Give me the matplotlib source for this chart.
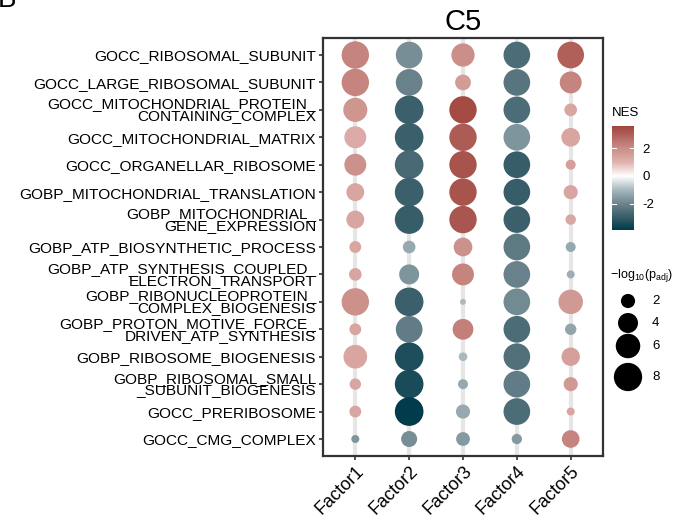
import numpy as np
import matplotlib
matplotlib.use("Agg")
import matplotlib.pyplot as plt
from matplotlib.colors import LinearSegmentedColormap, Normalize

plt.rcParams['font.family'] = ['Liberation Sans', 'DejaVu Sans']
plt.rcParams['mathtext.fontset'] = 'custom'
plt.rcParams['mathtext.rm'] = 'Liberation Sans'
plt.rcParams['mathtext.it'] = 'Liberation Sans'

factors = ['Factor1', 'Factor2', 'Factor3', 'Factor4', 'Factor5']
terms = [
    'GOCC_RIBOSOMAL_SUBUNIT',
    'GOCC_LARGE_RIBOSOMAL_SUBUNIT',
    'GOCC_MITOCHONDRIAL_PROTEIN_\nCONTAINING_COMPLEX',
    'GOCC_MITOCHONDRIAL_MATRIX',
    'GOCC_ORGANELLAR_RIBOSOME',
    'GOBP_MITOCHONDRIAL_TRANSLATION',
    'GOBP_MITOCHONDRIAL_\nGENE_EXPRESSION',
    'GOBP_ATP_BIOSYNTHETIC_PROCESS',
    'GOBP_ATP_SYNTHESIS_COUPLED_\nELECTRON_TRANSPORT',
    'GOBP_RIBONUCLEOPROTEIN_\nCOMPLEX_BIOGENESIS',
    'GOBP_PROTON_MOTIVE_FORCE_\nDRIVEN_ATP_SYNTHESIS',
    'GOBP_RIBOSOME_BIOGENESIS',
    'GOBP_RIBOSOMAL_SMALL\n_SUBUNIT_BIOGENESIS',
    'GOCC_PRERIBOSOME',
    'GOCC_CMG_COMPLEX',
]

# NES per term (rows) and factor (columns)
nes = [
    [2.2, -1.8, 2.0, -2.6, 3.0],
    [2.2, -2.1, 1.6, -2.4, 2.2],
    [1.8, -2.9, 3.5, -2.6, 1.4],
    [1.2, -2.9, 3.1, -1.7, 1.4],
    [1.9, -2.7, 3.3, -3.0, 1.5],
    [1.4, -2.9, 3.3, -3.0, 1.4],
    [1.4, -3.0, 3.2, -2.9, 1.3],
    [1.4, -1.3, 1.9, -2.3, -1.3],
    [1.4, -1.7, 2.2, -2.1, -1.2],
    [1.9, -2.9, -1.0, -1.9, 1.7],
    [1.4, -2.2, 2.3, -2.6, -1.4],
    [1.4, -3.4, -1.0, -2.5, 1.5],
    [1.4, -3.5, -1.3, -2.2, 1.7],
    [1.4, -3.9, -1.3, -2.6, 1.4],
    [-1.7, -1.8, -1.6, -1.6, 2.2],
]

# -log10(p_adj)
logp = [
    [7.5, 7.1, 5.4, 7.1, 7.1],
    [7.5, 7.1, 2.5, 7.1, 4.8],
    [5.8, 8.2, 7.5, 7.1, 1.6],
    [4.8, 8.2, 7.5, 7.1, 3.5],
    [4.8, 8.2, 7.5, 7.1, 1.0],
    [3.2, 8.2, 7.5, 7.1, 2.0],
    [3.2, 8.2, 7.5, 7.1, 1.1],
    [1.4, 1.6, 3.5, 7.1, 1.0],
    [1.6, 4.0, 4.8, 7.1, 0.64],
    [7.5, 8.2, 0.36, 7.1, 6.0],
    [1.4, 7.1, 4.3, 7.1, 1.3],
    [5.6, 8.2, 0.75, 7.1, 3.4],
    [1.3, 8.2, 1.0, 7.1, 2.0],
    [1.4, 8.2, 2.0, 7.1, 0.64],
    [0.64, 2.56, 1.9, 1.06, 3.1],
]

size_breaks = [2, 4, 6, 8]
nes_ticks = [-2, 0, 2]
nes_lo, nes_hi = -3.9, 3.6

anchors = [(-3.9, '#003C4B'), (-3.0, '#385D68'), (-2.0, '#6D858E'), (-1.0, '#A9B9BE'),
           (0.0, '#FFFFFF'), (1.0, '#E0B3AF'), (2.0, '#CB8E88'), (3.0, '#B0605A'), (3.9, '#9A3A32')]
cmap = LinearSegmentedColormap.from_list(
    'nes', [((v + 3.9) / 7.8, c) for v, c in anchors])
norm = Normalize(-3.9, 3.9)


def to_size(v):
    return 51.84 * np.asarray(v)


W, H = 689, 521
fig = plt.figure(figsize=(W / 100, H / 100), dpi=100)

def px_axes(x0, y0, x1, y1):
    return fig.add_axes([x0 / W, 1 - y1 / H, (x1 - x0) / W, (y1 - y0) / H])

ax = px_axes(323, 38, 603, 456)
n = len(terms)
xs, ys, cs, ss = [], [], [], []
for i in range(n):
    for j in range(len(factors)):
        xs.append(j + 1)
        ys.append(n - i)
        cs.append(nes[i][j])
        ss.append(logp[i][j])

for j in range(len(factors)):
    ax.axvline(j + 1, color='#E6E6E6', lw=3, zorder=0)
ax.scatter(xs, ys, s=to_size(ss), c=cs, cmap=cmap, norm=norm, linewidths=0, zorder=2)
ax.set_xlim(0.4, 5.6)
ax.set_ylim(0.38, n + 0.62)
ax.set_xticks(range(1, len(factors) + 1))
ax.set_xticklabels(factors, rotation=45, ha='right', va='top', rotation_mode='anchor', fontsize=13)
ax.set_yticks(range(n, 0, -1))
ax.set_yticklabels(terms, fontsize=11.1, linespacing=0.8)
ax.tick_params(length=3, width=1.2, color='#333333', pad=2)
for sp in ax.spines.values():
    sp.set_linewidth(1.6)
    sp.set_color('#333333')
ax.set_title('C5', fontsize=21, pad=6)

# colour bar
cax = px_axes(612, 126, 634, 230)
grad = np.linspace(nes_lo, nes_hi, 200)[:, None]
cax.imshow(grad, extent=[0, 1, nes_lo, nes_hi], origin='lower', cmap=cmap, norm=norm, aspect='auto')
for t in nes_ticks:
    cax.plot([0, 0.2], [t, t], color='white', lw=0.8)
    cax.plot([0.8, 1], [t, t], color='white', lw=0.8)
cax.set_xlim(0, 1)
cax.set_ylim(nes_lo, nes_hi)
cax.set_xticks([])
cax.yaxis.tick_right()
cax.set_yticks(nes_ticks)
cax.set_yticklabels([str(t) for t in nes_ticks], fontsize=9.5)
cax.tick_params(axis='y', length=0, pad=6)
for sp in cax.spines.values():
    sp.set_visible(False)
fig.text(612 / W, 1 - 113 / H, 'NES', fontsize=9.5, va='center', ha='left')

# size legend
fig.text(610 / W, 1 - 275 / H, r'$\mathregular{-log_{10}(p_{adj})}$', fontsize=9, va='center', ha='left')
sax = px_axes(610, 288, 680, 392)
sax.set_xlim(0, 70)
sax.set_ylim(392, 288)
sy = [301, 323, 346, 377]
sax.scatter([18] * len(size_breaks), sy, s=to_size(size_breaks), color='black', linewidths=0)
for y, b in zip(sy, size_breaks):
    sax.text(42, y, str(b), fontsize=9.5, va='center', ha='left')
sax.axis('off')

fig.text(-0.003, 1 - 7 / H, 'B', fontsize=20, va='baseline', ha='left')

fig.savefig('out.png', dpi=100)
